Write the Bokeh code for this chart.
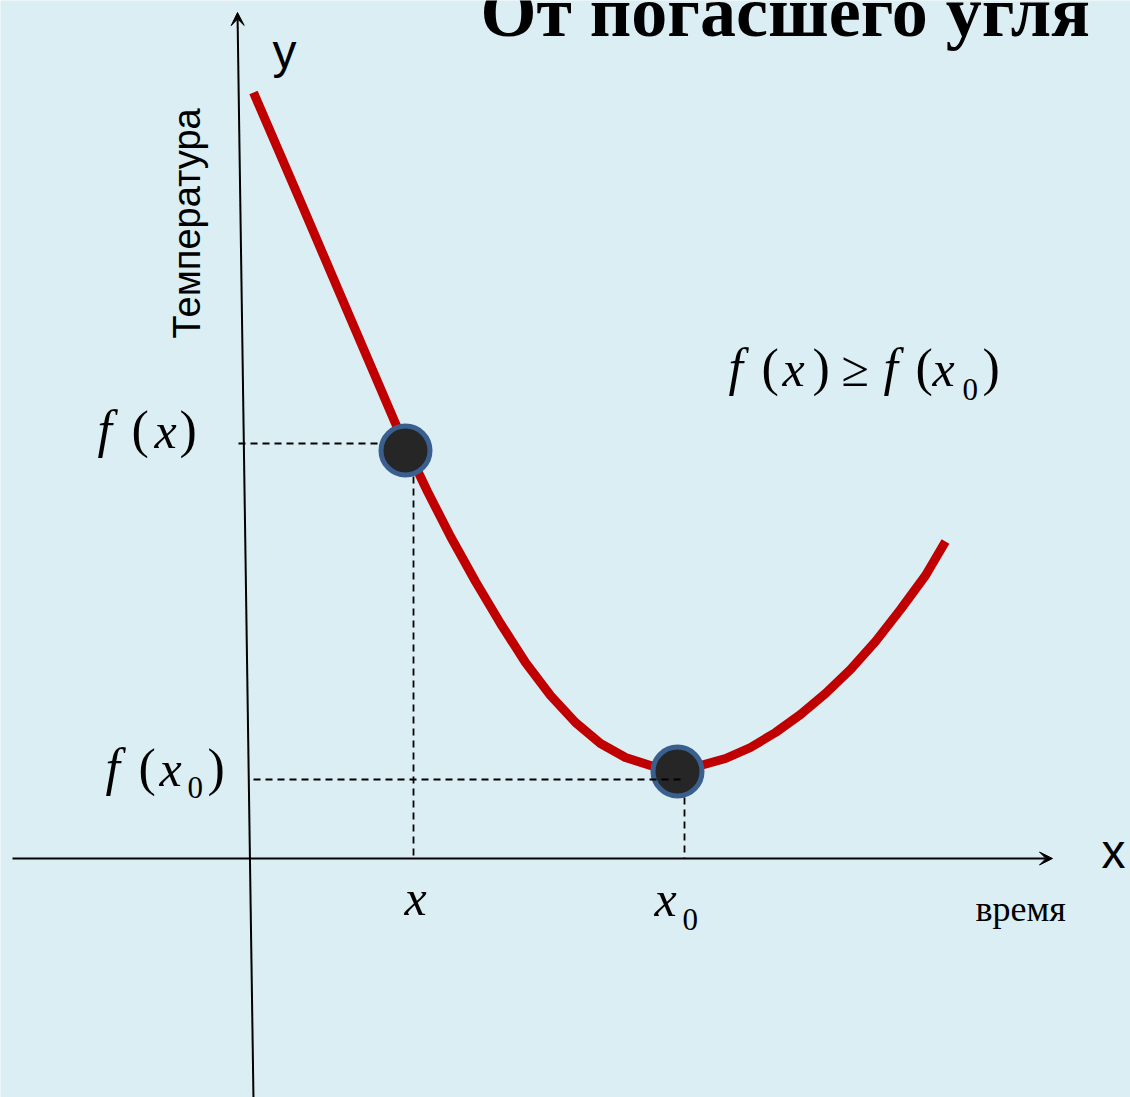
from bokeh.plotting import figure
from bokeh.models import Range1d, Arrow, VeeHead, Label
from bokeh.embed import file_html
from bokeh.resources import INLINE

# ---- data (origin = axes crossing, 1 unit = 100 px) ----
curve_time = [0.04, 0.51, 1.01, 1.46, 1.55, 1.78, 2.01, 2.26, 2.51, 2.76,
              3.01, 3.26, 3.51, 3.76, 4.01, 4.28, 4.51, 4.76, 5.01, 5.26,
              5.51, 5.76, 6.01, 6.26, 6.51, 6.76, 6.96]
curve_temp = [7.66, 6.57, 5.40, 4.35, 4.15, 3.67, 3.22, 2.77, 2.35, 1.96,
              1.63, 1.36, 1.15, 1.01, 0.93, 0.90, 0.93, 1.00, 1.11, 1.26,
              1.44, 1.65, 1.89, 2.17, 2.49, 2.83, 3.17]

point_time = [1.56, 4.28]
point_temp = [4.08, 0.87]

guide_time = [1.64, 4.35]        # vertical dashed guides
guide_top = [3.82, 0.61]
guide_temp = [4.15, 0.79]        # horizontal dashed guides
guide_h_start = [-0.11, 0.04]
guide_h_end = [1.31, 4.31]

BG = "#DAEEF3"
W, H = 1130, 1097
OX, OY = 249, 858     # reference pixel of the origin
K = 0.34              # label anchor correction (fraction of font size)


def X(px):
    return (px - OX) / 100.0


def Y(py):
    return (OY - py) / 100.0


p = figure(width=W, height=H, output_backend="svg", toolbar_location=None,
           x_range=Range1d(X(0), X(W)), y_range=Range1d(Y(H), Y(0)),
           min_border=0, title=None)
p.axis.visible = False
p.grid.visible = False
p.outline_line_color = None
p.background_fill_color = BG
p.border_fill_color = BG

# axes with arrows
p.add_layout(Arrow(end=VeeHead(size=13, fill_color="black", line_color="black", line_width=1),
                   x_start=X(253), y_start=Y(1100), x_end=X(237), y_end=Y(12),
                   line_color="black", line_width=2))
p.add_layout(Arrow(end=VeeHead(size=13, fill_color="black", line_color="black", line_width=1),
                   x_start=X(12), y_start=0, x_end=X(1052), y_end=0,
                   line_color="black", line_width=2))

# curve
p.line(curve_time, curve_temp, line_color="#C00000", line_width=9, line_join="round")

# points
p.scatter(point_time, point_temp, size=49, fill_color="#262626",
          line_color="#3A5F8F", line_width=5)

# dashed guides
p.segment(x0=guide_h_start, y0=guide_temp, x1=guide_h_end, y1=guide_temp,
          line_color="black", line_width=1.8, line_dash="7 5")
p.segment(x0=guide_time, y0=guide_top, x1=guide_time, y1=[0, 0],
          line_color="black", line_width=1.8, line_dash="7 5")


def lab(text, px, py, size, font="Liberation Serif", style="normal", rotated=False, k=K):
    if rotated:
        px = px - k * size
        angle = 1.5708
    else:
        py = py - k * size
        angle = 0.0
    p.add_layout(Label(x=X(px), y=Y(py), text=text, text_font=font,
                       text_font_size=f"{size}px", text_font_style=style,
                       text_baseline="alphabetic", text_align="left",
                       text_color="black", angle=angle))


# title (clipped at top in reference)
lab("От погасшего угля", 480, 40, 72, style="bold", k=0.39)

# axis letters
lab("y", 272, 64, 48, font="Liberation Sans", k=0.28)
lab("x", 1101, 866, 48, font="Liberation Sans", k=0.31)
lab("Температура", 201, 338, 38, font="Liberation Sans", rotated=True, k=0.37)
lab("время", 975, 921, 36)

# f(x) on the y axis
lab("f", 97, 447, 52, style="italic")
lab("(", 131, 447, 52)
lab("x", 154, 447, 50, style="italic")
lab(")", 179, 447, 52)

# f(x0) on the y axis
lab("f", 105, 785, 52, style="italic")
lab("(", 138, 785, 52)
lab("x", 159, 785, 50, style="italic")
lab("0", 187, 798, 31)
lab(")", 207, 785, 52)

# x and x0 on the time axis
lab("x", 404, 912, 50, style="italic", k=0.30)
lab("x", 654, 913, 50, style="italic", k=0.30)
lab("0", 682, 928, 31, k=0.30)

# f(x) >= f(x0)
lab("f", 728, 385, 52, style="italic")
lab("(", 761, 385, 52)
lab("x", 782, 385, 50, style="italic")
lab(")", 812, 385, 52)
lab("≥", 841, 385, 50)
lab("f", 883, 385, 52, style="italic")
lab("(", 915, 385, 52)
lab("x", 932, 385, 50, style="italic")
lab("0", 962, 400, 31)
lab(")", 982, 385, 52)

open("out.html", "w").write(file_html(p, INLINE))
